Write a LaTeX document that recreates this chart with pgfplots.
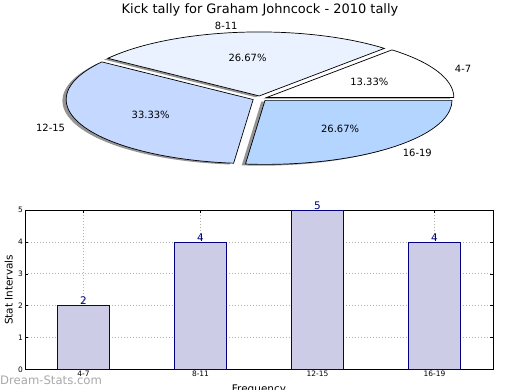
\documentclass[border=0pt]{standalone}
\usepackage{pgfplots}
\usepackage{pgfplotstable}
\pgfplotsset{compat=1.18}
\usepackage{fontspec}
\setmainfont{DejaVu Sans}
\definecolor{cA}{HTML}{FFFFFF}
\definecolor{cB}{HTML}{EBF2FF}
\definecolor{cC}{HTML}{C5D8FF}
\definecolor{cD}{HTML}{B3D5FF}
\definecolor{barfill}{HTML}{CCCCE6}
\definecolor{navy}{HTML}{000080}
\definecolor{gridgray}{HTML}{B0B0B0}

\pgfplotstableread{
label value
4-7 2
8-11 4
12-15 5
16-19 4
}\datatable

\pgfplotstablegetelem{0}{value}\of\datatable \edef\vA{\pgfplotsretval}
\pgfplotstablegetelem{1}{value}\of\datatable \edef\vB{\pgfplotsretval}
\pgfplotstablegetelem{2}{value}\of\datatable \edef\vC{\pgfplotsretval}
\pgfplotstablegetelem{3}{value}\of\datatable \edef\vD{\pgfplotsretval}
\pgfplotstablegetelem{0}{label}\of\datatable \edef\nA{\pgfplotsretval}
\pgfplotstablegetelem{1}{label}\of\datatable \edef\nB{\pgfplotsretval}
\pgfplotstablegetelem{2}{label}\of\datatable \edef\nC{\pgfplotsretval}
\pgfplotstablegetelem{3}{label}\of\datatable \edef\nD{\pgfplotsretval}

\pgfmathsetmacro\tot{\vA+\vB+\vC+\vD}
\pgfmathsetmacro\tA{0}
\pgfmathsetmacro\tB{\tA+360*\vA/\tot}
\pgfmathsetmacro\tC{\tB+360*\vB/\tot}
\pgfmathsetmacro\tD{\tC+360*\vC/\tot}
\pgfmathsetmacro\tE{\tD+360*\vD/\tot}
\def\expl{0.04}
\newcommand\setg[2]{\pgfmathsetmacro\tmpv{#2}\global\expandafter\let\csname #1\endcsname\tmpv}
\newcommand\mkslice[3]{% id, start, end
  \pgfmathsetmacro\tmpm{(#2+#3)/2}%
  \setg{dx#1}{\expl*cos(\tmpm)}%
  \setg{dy#1}{\expl*sin(\tmpm)}%
  \setg{lx#1}{(\expl+1.1)*cos(\tmpm)}%
  \setg{ly#1}{(\expl+1.1)*sin(\tmpm)}%
  \setg{px#1}{(\expl+0.6)*cos(\tmpm)}%
  \setg{py#1}{(\expl+0.6)*sin(\tmpm)}%
  \pgfmathparse{cos(\tmpm)>0}%
  \ifdim\pgfmathresult pt>0.5pt
    \expandafter\gdef\csname an#1\endcsname{west}%
  \else
    \expandafter\gdef\csname an#1\endcsname{east}%
  \fi
}
\mkslice{A}{\tA}{\tB}
\mkslice{B}{\tB}{\tC}
\mkslice{C}{\tC}{\tD}
\mkslice{D}{\tD}{\tE}
\pgfmathsetmacro\pA{100*\vA/\tot}
\pgfmathsetmacro\pB{100*\vB/\tot}
\pgfmathsetmacro\pC{100*\vC/\tot}
\pgfmathsetmacro\pD{100*\vD/\tot}
\newcommand\pct[1]{\pgfmathprintnumber[fixed,fixed zerofill,precision=2,assume math mode=true]{#1}\%}

\newcommand\pieshadow[4]{%
  \fill[black!42] (axis cs:{#3-0.02},{#4-0.02}) -- (axis cs:{#3-0.02+cos(#1)},{#4-0.02+sin(#1)}) arc[start angle=#1, end angle=#2, radius=1] -- cycle;}
\newcommand\pieslice[5]{%
  \filldraw[fill=#5, draw=black, line width=0.7bp] (axis cs:{#3},{#4}) -- (axis cs:{#3+cos(#1)},{#4+sin(#1)}) arc[start angle=#1, end angle=#2, radius=1] -- cycle;}

\begin{document}
\begin{tikzpicture}
% ---------- pie ----------
\begin{axis}[
  at={(260bp,291.5bp)}, anchor=center,
  x=187bp, y=64bp,
  xmin=-1.39, xmax=1.39, ymin=-1.5, ymax=1.5,
  hide axis, clip=false,
]
\pieshadow{\tA}{\tB}{\dxA}{\dyA}
\pieshadow{\tB}{\tC}{\dxB}{\dyB}
\pieshadow{\tC}{\tD}{\dxC}{\dyC}
\pieshadow{\tD}{\tE}{\dxD}{\dyD}
\pieslice{\tA}{\tB}{\dxA}{\dyA}{cA}
\pieslice{\tB}{\tC}{\dxB}{\dyB}{cB}
\pieslice{\tC}{\tD}{\dxC}{\dyC}{cC}
\pieslice{\tD}{\tE}{\dxD}{\dyD}{cD}
\node[anchor=\anA, inner sep=0, font=\fontsize{10}{12}\selectfont] at (axis cs:\lxA,\lyA) {\nA};
\node[anchor=\anB, inner sep=0, font=\fontsize{10}{12}\selectfont] at (axis cs:\lxB,\lyB) {\nB};
\node[anchor=\anC, inner sep=0, font=\fontsize{10}{12}\selectfont] at (axis cs:\lxC,\lyC) {\nC};
\node[anchor=\anD, inner sep=0, font=\fontsize{10}{12}\selectfont] at (axis cs:\lxD,\lyD) {\nD};
\node[inner sep=0, font=\fontsize{10}{12}\selectfont] at (axis cs:\pxA,\pyA) {\pct{\pA}};
\node[inner sep=0, font=\fontsize{10}{12}\selectfont] at (axis cs:\pxB,\pyB) {\pct{\pB}};
\node[inner sep=0, font=\fontsize{10}{12}\selectfont] at (axis cs:\pxC,\pyC) {\pct{\pC}};
\node[inner sep=0, font=\fontsize{10}{12}\selectfont] at (axis cs:\pxD,\pyD) {\pct{\pD}};
\end{axis}
\node[anchor=base, inner sep=0, font=\fontsize{13}{15}\selectfont] at (260bp,376.3bp) {Kick tally for Graham Johncock - 2010 tally};
% ---------- bars ----------
\begin{axis}[
  at={(25bp,20.7bp)}, anchor=south west,
  scale only axis, width=468bp, height=159bp,
  xmin=-0.5, xmax=3.5, ymin=0, ymax=5,
  ybar, bar width=0.45,
  xtick={0,1,2,3},
  xticklabels from table={\datatable}{label},
  ytick={0,1,2,3,4,5},
  tick align=inside,
  major tick length=3bp,
  tick style={black, line width=0.5bp},
  axis line style={line width=0.8bp},
  grid=major,
  major grid style={gridgray, line width=0.9bp, dash pattern=on 1bp off 2bp},
  /pgf/number format/assume math mode=true,
  ticklabel style={font=\fontsize{7.5}{9}\selectfont},
  xticklabel style={inner sep=1.5bp},
  yticklabel style={inner sep=2bp},
  ylabel={Stat Intervals},
  ylabel style={at={(axis description cs:-0.0348,0.5)}, anchor=center, font=\fontsize{10.5}{12}\selectfont},
  xlabel={Frequency},
  xlabel style={at={(axis description cs:0.5,-0.0943)}, anchor=north, inner sep=0, font=\fontsize{10.5}{12}\selectfont},
]
\addplot[fill=barfill, draw=navy, line width=0.8bp,
  nodes near coords,
  nodes near coords style={text=navy, anchor=south, inner sep=0.5bp, font=\fontsize{10.5}{12}\selectfont}]
  table[x expr=\coordindex, y=value]{\datatable};
\end{axis}
\node[anchor=base west, inner sep=0, text=black!40, opacity=0.85, font=\fontsize{11.7}{13}\selectfont] at (0bp,6bp) {Dream-Stats.com};
\pgfresetboundingbox
\useasboundingbox (0bp,0bp) rectangle (520bp,390bp);
\end{tikzpicture}
\end{document}
